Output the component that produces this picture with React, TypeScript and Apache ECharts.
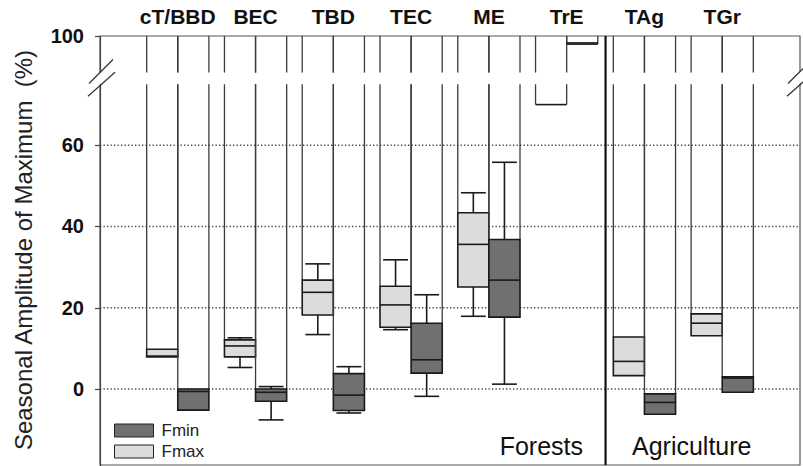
import React, { useEffect, useRef } from 'react';
import * as echarts from 'echarts';

const categories = ['cT/BBD', 'BEC', 'TBD', 'TEC', 'ME', 'TrE', 'TAg', 'TGr'];

// Fmax statistics (null = outside the plotted range / not drawn)
const fmaxLow = [7.9, 5.3, 13.4, 14.6, 17.9, null, 3.3, 13.1];
const fmaxQ1 = [7.9, 7.9, 18.2, 15.2, 25.1, 70, 3.3, 13.1];
const fmaxMedian = [8.1, 10.6, 23.8, 20.7, 35.6, null, 6.8, 16.2];
const fmaxQ3 = [9.8, 12.1, 26.8, 25.3, 43.4, null, 12.8, 18.5];
const fmaxHigh = [9.8, 12.6, 30.8, 31.8, 48.3, null, 12.8, 18.5];

// Fmin statistics
const fminLow = [-5.2, -7.6, -5.9, -1.8, 1.2, null, -6.2, -0.8];
const fminQ1 = [-5.2, -3.0, -5.3, 3.9, 17.7, 98, -6.2, -0.8];
const fminMedian = [-0.6, -0.8, -1.5, 7.2, 26.8, 98.3, -3.3, 2.7];
const fminQ3 = [0.0, 0.0, 3.8, 16.2, 36.8, null, -1.2, 3.0];
const fminHigh = [0.0, 0.6, 5.5, 23.2, 55.8, null, -1.2, 3.0];

const yTicks = [0, 20, 40, 60, 100];
const yGrid = [0, 20, 40, 60];
const Y_MIN = -18.7;
const Y_MAX = 100;
const BREAK_START = 75;
const BREAK_END = 91;
const X_MAX = 9;
const GROUP_DIVIDER = 6.5;
const BOX_W = 0.4;

const FMAX_COLOR = '#dcdcdc';
const FMIN_COLOR = '#707070';
const FONT = "'Liberation Sans', Arial, sans-serif";

function buildData(low: any[], q1: any[], med: any[], q3: any[], high: any[]) {
  const f = (v: any) => (v === null ? '-' : v);
  return categories.map((_, i) => [i + 1, f(low[i]), f(q1[i]), f(med[i]), f(q3[i]), f(high[i])]);
}

function makeRenderer(side: number, color: string) {
  return (params: any, api: any) => {
    const x = api.value(0);
    const low = api.value(1);
    const q1 = api.value(2);
    const med = api.value(3);
    const q3 = api.value(4);
    const high = api.value(5);
    const xa = side < 0 ? x - BOX_W : x;
    const xb = side < 0 ? x : x + BOX_W;
    const x0 = api.coord([xa, 0])[0];
    const x1 = api.coord([xb, 0])[0];
    const xc = (x0 + x1) / 2;
    const py = (v: number) => api.coord([x, v])[1];
    const yTop = py(Y_MAX);
    const yBrLow = py(BREAK_START);
    const yBrHigh = py(BREAK_END);
    const children: any[] = [];
    const colStyle = { stroke: '#3a3a3a', lineWidth: 1.3 };
    const boxStyle = { stroke: '#1a1a1a', lineWidth: 1.6 };
    const topVal = isNaN(q3) ? q1 : q3;
    [x0, x1].forEach((xe) => {
      if (topVal < BREAK_START) {
        children.push({ type: 'line', shape: { x1: xe, y1: py(topVal), x2: xe, y2: yBrLow }, style: colStyle });
        children.push({ type: 'line', shape: { x1: xe, y1: yBrHigh, x2: xe, y2: yTop }, style: colStyle });
      } else {
        children.push({ type: 'line', shape: { x1: xe, y1: py(topVal), x2: xe, y2: yTop }, style: colStyle });
      }
    });
    const capHalf = (x1 - x0) * 0.4;
    if (!isNaN(high) && !isNaN(q3) && high > q3) {
      children.push({ type: 'line', shape: { x1: xc, y1: py(q3), x2: xc, y2: py(high) }, style: boxStyle });
      children.push({ type: 'line', shape: { x1: xc - capHalf, y1: py(high), x2: xc + capHalf, y2: py(high) }, style: boxStyle });
    }
    if (!isNaN(low) && low < q1) {
      children.push({ type: 'line', shape: { x1: xc, y1: py(q1), x2: xc, y2: py(low) }, style: boxStyle });
      children.push({ type: 'line', shape: { x1: xc - capHalf, y1: py(low), x2: xc + capHalf, y2: py(low) }, style: boxStyle });
    }
    if (!isNaN(q3)) {
      children.push({
        type: 'rect',
        shape: { x: x0, y: py(q3), width: x1 - x0, height: py(q1) - py(q3) },
        style: { fill: color, stroke: '#1a1a1a', lineWidth: 1.6 },
      });
    } else {
      children.push({ type: 'line', shape: { x1: x0, y1: py(q1), x2: x1, y2: py(q1) }, style: boxStyle });
    }
    if (!isNaN(med)) {
      children.push({ type: 'line', shape: { x1: x0, y1: py(med), x2: x1, y2: py(med) }, style: boxStyle });
    }
    return { type: 'group', children };
  };
}

function renderDecor(params: any, api: any) {
  const children: any[] = [];
  const sx = api.coord([GROUP_DIVIDER, Y_MAX])[0];
  children.push({
    type: 'line',
    shape: { x1: sx, y1: api.coord([0, Y_MAX])[1], x2: sx, y2: api.coord([0, Y_MIN])[1] },
    style: { stroke: '#111', lineWidth: 2.2 },
  });
  const yU = api.coord([0, BREAK_END])[1];
  const yD = api.coord([0, BREAK_START])[1];
  const mark = (xm: number) => {
    children.push({
      type: 'polygon',
      shape: { points: [[xm - 11, yU + 11], [xm + 13, yU - 13], [xm + 13, yD - 13], [xm - 11, yD + 11]] },
      style: { fill: '#fff' },
    });
    children.push({ type: 'line', shape: { x1: xm - 11, y1: yU + 11, x2: xm + 13, y2: yU - 13 }, style: { stroke: '#333', lineWidth: 1.3 } });
    children.push({ type: 'line', shape: { x1: xm - 12, y1: yD + 12, x2: xm + 15, y2: yD - 12 }, style: { stroke: '#333', lineWidth: 1.3 } });
  };
  mark(api.coord([0, 0])[0]);
  mark(api.coord([X_MAX, 0])[0] - 1);
  return { type: 'group', children };
}

export default function App() {
  const ref = useRef<HTMLDivElement>(null);
  useEffect(() => {
    if (!ref.current) return;
    const chart = echarts.init(ref.current, null, { renderer: 'svg' });
    chart.setOption({
      animation: false,
      backgroundColor: '#fff',
      grid: { left: 100, right: 3, top: 36, bottom: 1, show: true, borderColor: '#555', borderWidth: 1.2 },
      legend: {
        data: ['Fmin', 'Fmax'],
        orient: 'vertical',
        left: 114,
        top: 422,
        icon: 'rect',
        itemWidth: 39,
        itemHeight: 13,
        itemGap: 4,
        padding: 0,
        selectedMode: false,
        itemStyle: { borderColor: '#222', borderWidth: 1 },
        textStyle: { fontFamily: FONT, fontSize: 17, color: '#222', padding: [0, 0, 0, 3] },
      },
      xAxis: {
        type: 'value',
        position: 'top',
        min: 0,
        max: X_MAX,
        axisLine: { show: false },
        axisTick: { show: false },
        splitLine: { show: false },
        axisLabel: {
          customValues: categories.map((_, i) => i + 1),
          formatter: (v: number) => categories[Math.round(v) - 1] ?? '',
          fontFamily: FONT,
          fontWeight: 'bold',
          fontSize: 21,
          color: '#111',
          margin: 9,
        },
      },
      yAxis: {
        type: 'value',
        min: Y_MIN,
        max: Y_MAX,
        breaks: [{ start: BREAK_START, end: BREAK_END, gap: '2.73%' }],
        breakArea: { show: false },
        axisLine: { show: true, lineStyle: { color: '#444', width: 1.2 } },
        axisTick: { show: true, length: 5, customValues: yTicks, lineStyle: { color: '#444', width: 1.2 } },
        axisLabel: {
          customValues: yTicks,
          fontFamily: FONT,
          fontWeight: 'bold',
          fontSize: 20,
          color: '#111',
          margin: 16,
        },
        splitLine: { show: false },
      },
      graphic: [
        {
          type: 'text',
          x: 23,
          y: 250,
          rotation: Math.PI / 2,
          style: {
            text: 'Seasonal Amplitude of Maximum  (%)',
            font: `24px ${FONT}`,
            fill: '#222',
            textAlign: 'center',
            textVerticalAlign: 'middle',
          },
        },
        {
          type: 'text',
          x: 583,
          y: 446,
          style: { text: 'Forests', font: `25px ${FONT}`, fill: '#111', textAlign: 'right', textVerticalAlign: 'middle' },
        },
        {
          type: 'text',
          x: 632,
          y: 446,
          style: { text: 'Agriculture', font: `25px ${FONT}`, fill: '#111', textAlign: 'left', textVerticalAlign: 'middle' },
        },
      ],
      series: [
        {
          type: 'custom',
          name: 'grid',
          silent: true,
          z: 1,
          data: yGrid.map((v) => [v]),
          encode: { y: 0 },
          renderItem: (params: any, api: any) => {
            const y = api.coord([0, api.value(0)])[1];
            const xl = api.coord([0, 0])[0];
            const xr = api.coord([X_MAX, 0])[0];
            return {
              type: 'line',
              shape: { x1: xl, y1: y, x2: xr, y2: y },
              style: { stroke: '#444', lineWidth: 1.3, lineDash: [1.3, 2.2] },
            };
          },
        },
        {
          type: 'custom',
          name: 'Fmax',
          z: 3,
          itemStyle: { color: FMAX_COLOR },
          encode: { x: 0, y: [1, 2, 3, 4, 5] },
          data: buildData(fmaxLow, fmaxQ1, fmaxMedian, fmaxQ3, fmaxHigh),
          renderItem: makeRenderer(-1, FMAX_COLOR),
        },
        {
          type: 'custom',
          name: 'Fmin',
          z: 3,
          itemStyle: { color: FMIN_COLOR },
          encode: { x: 0, y: [1, 2, 3, 4, 5] },
          data: buildData(fminLow, fminQ1, fminMedian, fminQ3, fminHigh),
          renderItem: makeRenderer(1, FMIN_COLOR),
        },
        {
          type: 'custom',
          name: 'decor',
          silent: true,
          z: 5,
          data: [[0]],
          renderItem: renderDecor,
        },
      ],
    });
    return () => chart.dispose();
  }, []);
  return <div ref={ref} style={{ position: 'absolute', left: 0, top: 0, width: 803, height: 466 }} />;
}
